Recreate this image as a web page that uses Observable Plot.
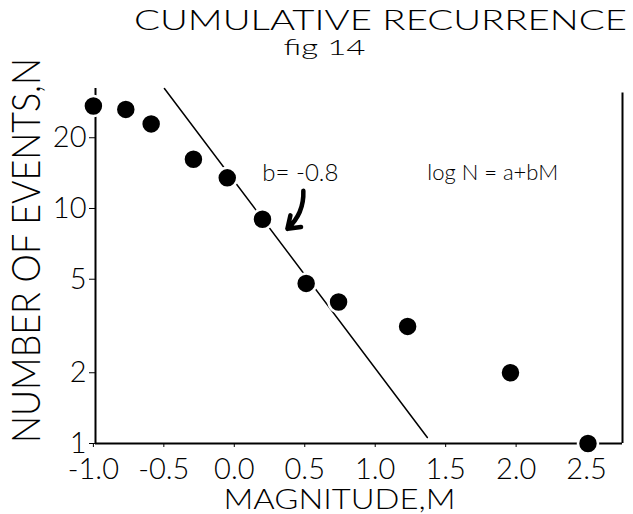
<!DOCTYPE html>
<html>
<head>
<meta charset="utf-8">
<script src="https://cdn.jsdelivr.net/npm/d3@7"></script>
<script src="https://cdn.jsdelivr.net/npm/@observablehq/plot@0.6"></script>
<style>
  html, body { margin: 0; padding: 0; background: white; }
</style>
</head>
<body>
<div id="chart"></div>
<script>
// ---- data ----
const magnitude = [-1.0, -0.77, -0.59, -0.29, -0.05, 0.2, 0.51, 0.74, 1.23, 1.96, 2.51];
const events    = [27.3, 26.4, 22.9, 16.2, 13.5, 9.0, 4.8, 4.0, 3.15, 2.0, 1.0];

// fitted line log N = a + bM (b = -0.8), endpoints as drawn
const fitM = [-0.496, 1.37];
const fitN = [32.4, 1.06];

// curved arrow pointing at the line
const arrowStart = {m: 0.49, n: 11.9};
const arrowEnd   = {m: 0.377, n: 8.2};

// annotations
const slopeLabel = "b= -0.8";
const slopeAt = {m: 0.199, n: 14.1};
const lawLabel = "log N = a+bM";
const lawAt = {m: 1.37, n: 14.2};

// axes
const xTicks = [-1.0, -0.5, 0.0, 0.5, 1.0, 1.5, 2.0, 2.5];
const yTicks = [1, 2, 5, 10, 20];
const xDomain = [-0.985, 2.755];
const yDomain = [1, 32.4];
const rightAxisTop = 31;

const titleText = "CUMULATIVE RECURRENCE";
const subtitleText = "fig 14";
const xLabel = "MAGNITUDE,M";
const yLabel = "NUMBER OF EVENTS,N";

// ---- tables built from arrays ----
const points = magnitude.map((m, i) => ({m, n: events[i]}));
const fit = fitM.map((m, i) => ({m, n: fitN[i]}));

const font = "Lato, 'Open Sans', sans-serif";

const svg = Plot.plot({
  width: 633,
  height: 514,
  marginTop: 88,
  marginRight: 11,
  marginBottom: 71,
  marginLeft: 95,
  x: {domain: xDomain},
  y: {type: "log", domain: yDomain},
  style: {fontFamily: font, fontWeight: 300, fontSize: "30px", background: "white", color: "black"},
  marks: [
    Plot.ruleX([xDomain[0]], {y1: yDomain[0], y2: yDomain[1], stroke: "black", strokeWidth: 2}),
    Plot.ruleY([yDomain[0]], {stroke: "black", strokeWidth: 2}),
    Plot.ruleX([xDomain[1]], {y1: yDomain[0], y2: rightAxisTop, stroke: "black", strokeWidth: 2}),
    Plot.line(fit, {x: "m", y: "n", stroke: "black", strokeWidth: 1.5}),
    Plot.dot(points, {x: "m", y: "n", r: 10, fill: "black", stroke: "white", strokeWidth: 2.5}),
    Plot.arrow([{s: arrowStart, e: arrowEnd}], {
      x1: d => d.s.m, y1: d => d.s.n, x2: d => d.e.m, y2: d => d.e.n,
      bend: 25, stroke: "black", strokeWidth: 4.5, headLength: 11, headAngle: 70
    }),
    Plot.text([slopeLabel], {x: () => slopeAt.m, y: () => slopeAt.n, text: d => d,
      textAnchor: "start", lineAnchor: "middle", fontSize: 24, fill: "black"}),
    Plot.text([lawLabel], {x: () => lawAt.m, y: () => lawAt.n, text: d => d,
      textAnchor: "start", lineAnchor: "middle", fontSize: 22, fill: "black"}),
    Plot.axisX({ticks: xTicks, tickFormat: d => d.toFixed(1), tickSize: 4, tickPadding: 11,
      fontSize: 29, label: null, stroke: "black"}),
    Plot.axisY({ticks: yTicks, tickFormat: d => String(d), tickSize: 6, tickPadding: 3,
      fontSize: 29, label: null, stroke: "black"}),
    Plot.text([titleText], {frameAnchor: "top-left", text: d => d, dx: 285, dy: -67,
      textAnchor: "middle", lineAnchor: "middle", fontSize: 27, fill: "black"}),
    Plot.text([subtitleText], {frameAnchor: "top-left", text: d => d, dx: 229, dy: -41,
      textAnchor: "middle", lineAnchor: "middle", fontSize: 22, fill: "black"}),
    Plot.text([yLabel], {frameAnchor: "top-left", text: d => d, dx: -68, dy: 162, rotate: -90,
      textAnchor: "middle", lineAnchor: "middle", fontSize: 39, fill: "black"}),
    Plot.text([xLabel], {frameAnchor: "bottom-left", text: d => d, dx: 244, dy: 57,
      textAnchor: "middle", lineAnchor: "middle", fontSize: 27, fill: "black"})
  ]
});

// stretch the hand-lettered labels to their widths in the reference
const lengths = {[titleText]: 493, [subtitleText]: 82, [yLabel]: 385, [xLabel]: 232};
for (const t of svg.querySelectorAll("text")) {
  const L = lengths[t.textContent];
  if (L) {
    t.setAttribute("textLength", L);
    t.setAttribute("lengthAdjust", "spacingAndGlyphs");
  }
}
document.getElementById("chart").appendChild(svg);
</script>
</body>
</html>
